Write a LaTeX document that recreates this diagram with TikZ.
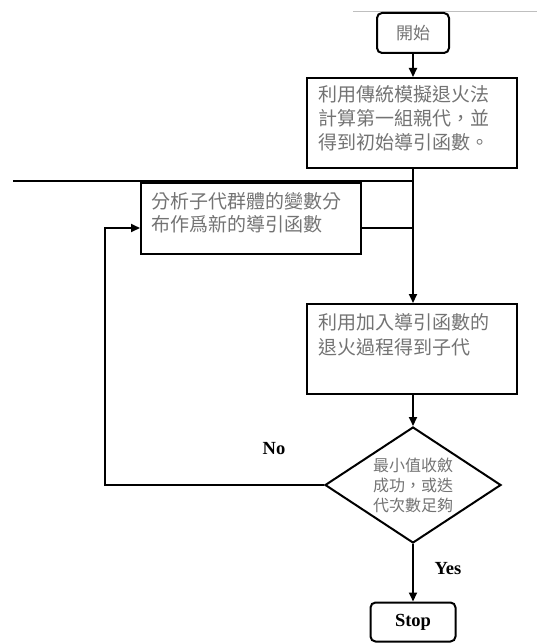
\documentclass[tikz,border=0pt]{standalone}
\usepackage{fontspec}
\setmainfont{Liberation Serif}
\newfontfamily\cjk{Noto Sans CJK TC}
\usetikzlibrary{arrows.meta,shapes.geometric,calc}
\begin{document}
\begin{tikzpicture}[x=1pt,y=-1pt,
  conn/.style={line width=2pt},
  arr/.style={conn,-{Triangle[length=9pt,width=8pt]}},
  procbox/.style={draw,line width=2pt,rectangle,anchor=north west,text=black!55},
  termbox/.style={draw,line width=2pt,rectangle,rounded corners=5pt,inner sep=0pt},
  decbox/.style={draw,line width=2pt,diamond,aspect=1.5,inner sep=0pt,
    minimum width=176pt,minimum height=116pt,align=center,text=black!55,
    font=\cjk\fontsize{16}{20}\selectfont},
  lbl/.style={font=\bfseries\fontsize{18.5}{20}\selectfont}]
\useasboundingbox (0,0) rectangle (537,644);
\draw[gray!50,line width=1pt] (353,12) -- (537,12);

\node[termbox,minimum width=72pt,minimum height=40pt,text=black!55,
  font=\cjk\fontsize{17}{20}\selectfont] (start) at (413,33) {開始};

\node[procbox,inner xsep=11pt,inner ysep=7pt] (b1) at (306,77)
  {\parbox[t][76pt][t]{188pt}{\cjk\fontsize{19}{24}\selectfont
   利用傳統模擬退火法\\計算第一組親代，並\\得到初始導引函數。}};

\node[procbox,inner xsep=10pt,inner ysep=9pt] (b2) at (140,182)
  {\parbox[t][53pt][t]{200pt}{\cjk\fontsize{19}{23}\selectfont
   分析子代群體的變數分\\布作爲新的導引函數}};

\node[procbox,inner xsep=11pt,inner ysep=9pt] (b3) at (306,303)
  {\parbox[t][72pt][t]{188pt}{\cjk\fontsize{19}{25}\selectfont
   利用加入導引函數的\\退火過程得到子代}};

\node[decbox] (d) at (413,485) {最小值收斂\\成功，或迭\\代次數足夠};

\node[termbox,minimum width=85pt,minimum height=39pt,lbl] (stop) at (413,622) {Stop};

\node[lbl] (no) at (274,449) {No};
\node[lbl] (yes) at (448,569) {Yes};

\coordinate (spine) at (413,0);
\coordinate (hl) at (13,181);
\coordinate (lp) at (105,485);
\coordinate (b2r) at ($(b2.south east)+(0,-27)$);
\coordinate (b2l) at ($(b2.south west)+(0,-27)$);

\draw[arr] (start.south) -- (start.south |- b1.north);
\draw[arr] (spine |- b1.south) -- (spine |- b3.north);
\draw[conn] (hl) -- (hl -| spine);
\draw[conn] (b2r) -- (b2r -| spine);
\draw[arr] (spine |- b3.south) -- (d.north);
\draw[arr] (d.west) -- (lp) |- (b2l);
\draw[arr] (d.south) -- (stop.north);
\end{tikzpicture}
\end{document}
